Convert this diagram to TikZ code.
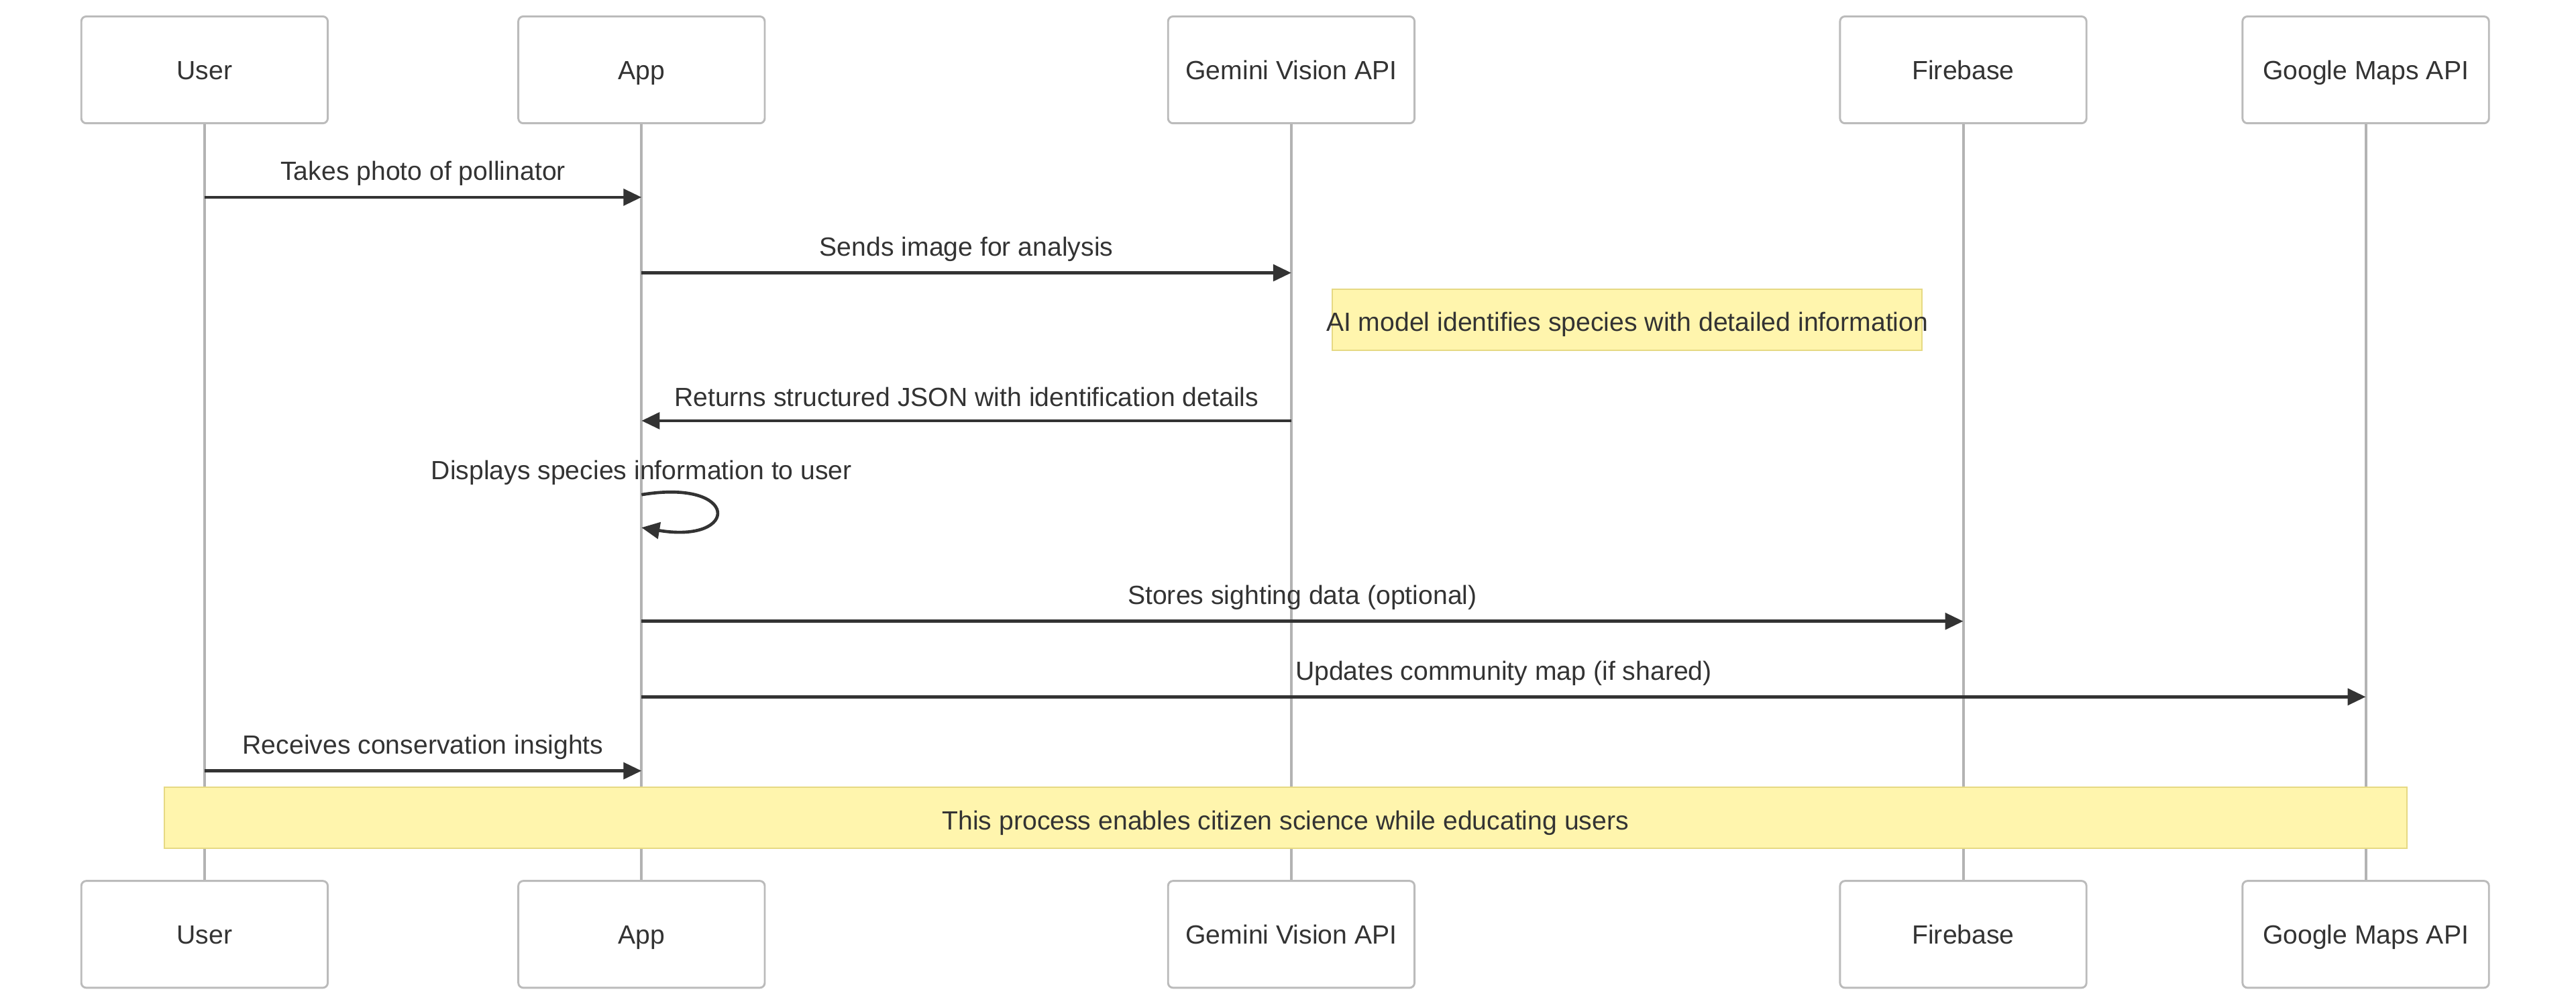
\documentclass[tikz,border=0pt]{standalone}
\usepackage{fontspec}
\setmainfont{Liberation Sans}
\usetikzlibrary{arrows.meta,calc}
\definecolor{txt}{HTML}{333333}
\definecolor{lifec}{HTML}{B3B3B3}
\definecolor{boxline}{HTML}{BBBBBB}
\definecolor{notefill}{HTML}{FFF5AD}
\definecolor{noteline}{HTML}{E6D983}
\begin{document}
\begin{tikzpicture}[x=1pt,y=-1pt,
  font=\fontsize{16}{19}\selectfont, text=txt,
  every node/.style={text height=11.5pt, text depth=0pt},
  actor/.style={draw=boxline, line width=1.2pt, rounded corners=3pt, fill=white,
    minimum width=150pt, minimum height=65pt, inner sep=0pt},
  lifeln/.style={draw=lifec, line width=1.6pt},
  msg/.style={draw=txt, line width=1.9pt, -{Triangle[length=11pt,width=10pt]}},
  lbl/.style={inner sep=0pt},
  note/.style={draw=noteline, fill=notefill, line width=0.8pt, inner sep=0pt,
    minimum height=37pt, text height=0pt}]
\useasboundingbox (0,0) rectangle (1568,613);
% actors
\node[actor] (uT) at (124.5,42.5) {User};
\node[actor] (aT) at (390.5,42.5) {App};
\node[actor] (gT) at (786,42.5) {Gemini Vision API};
\node[actor] (fT) at (1195,42.5) {Firebase};
\node[actor] (mT) at (1440,42.5) {Google Maps API};
\node[actor] (uB) at (124.5,568.5) {User};
\node[actor] (aB) at (390.5,568.5) {App};
\node[actor] (gB) at (786,568.5) {Gemini Vision API};
\node[actor] (fB) at (1195,568.5) {Firebase};
\node[actor] (mB) at (1440,568.5) {Google Maps API};
% lifelines
\draw[lifeln] (uT.south) -- (uB.north);
\draw[lifeln] (aT.south) -- (aB.north);
\draw[lifeln] (gT.south) -- (gB.north);
\draw[lifeln] (fT.south) -- (fB.north);
\draw[lifeln] (mT.south) -- (mB.north);
% rows
\coordinate (r1) at (0,120);
\coordinate (r2) at (0,166);
\coordinate (r3) at (0,256);
\coordinate (r4a) at (0,301);
\coordinate (r4b) at (0,321);
\coordinate (r5) at (0,378);
\coordinate (r6) at (0,424);
\coordinate (r7) at (0,469);
% messages
\draw[msg] (uT |- r1) -- (aT |- r1);
\node[lbl] (l1) at ($(uT |- r1)!0.5!(aT |- r1) + (0,-16)$) {Takes photo of pollinator};
\draw[msg] (aT |- r2) -- (gT |- r2);
\node[lbl] (l2) at ($(aT |- r2)!0.5!(gT |- r2) + (0,-16)$) {Sends image for analysis};
\node[note, minimum width=359pt] (n1) at (990.5,194.5) {};
\node[lbl] (n1t) at ($(n1)+(0,1.2)$) {AI model identifies species with detailed information};
\draw[msg] (gT |- r3) -- (aT |- r3);
\node[lbl] (l3) at ($(gT |- r3)!0.5!(aT |- r3) + (0,-14.5)$) {Returns structured JSON with identification details};
\node[lbl] (l4) at (390.5,286) {Displays species information to user};
\draw[msg] (aT |- r4a) .. controls +(60,-10) and +(60,10) .. (aT |- r4b);
\draw[msg] (aT |- r5) -- (fT |- r5);
\node[lbl] (l5) at ($(aT |- r5)!0.5!(fT |- r5) + (0,-16)$) {Stores sighting data (optional)};
\draw[msg] (aT |- r6) -- (mT |- r6);
\node[lbl] (l6) at ($(aT |- r6)!0.5!(mT |- r6) + (0,-16)$) {Updates community map (if shared)};
\draw[msg] (uT |- r7) -- (aT |- r7);
\node[lbl] (l7) at ($(uT |- r7)!0.5!(aT |- r7) + (0,-16)$) {Receives conservation insights};
\node[note, minimum width=1365pt] (n2) at (782.5,497.5) {};
\node[lbl] (n2t) at ($(n2)+(0,1.5)$) {This process enables citizen science while educating users};
\end{tikzpicture}
\end{document}
